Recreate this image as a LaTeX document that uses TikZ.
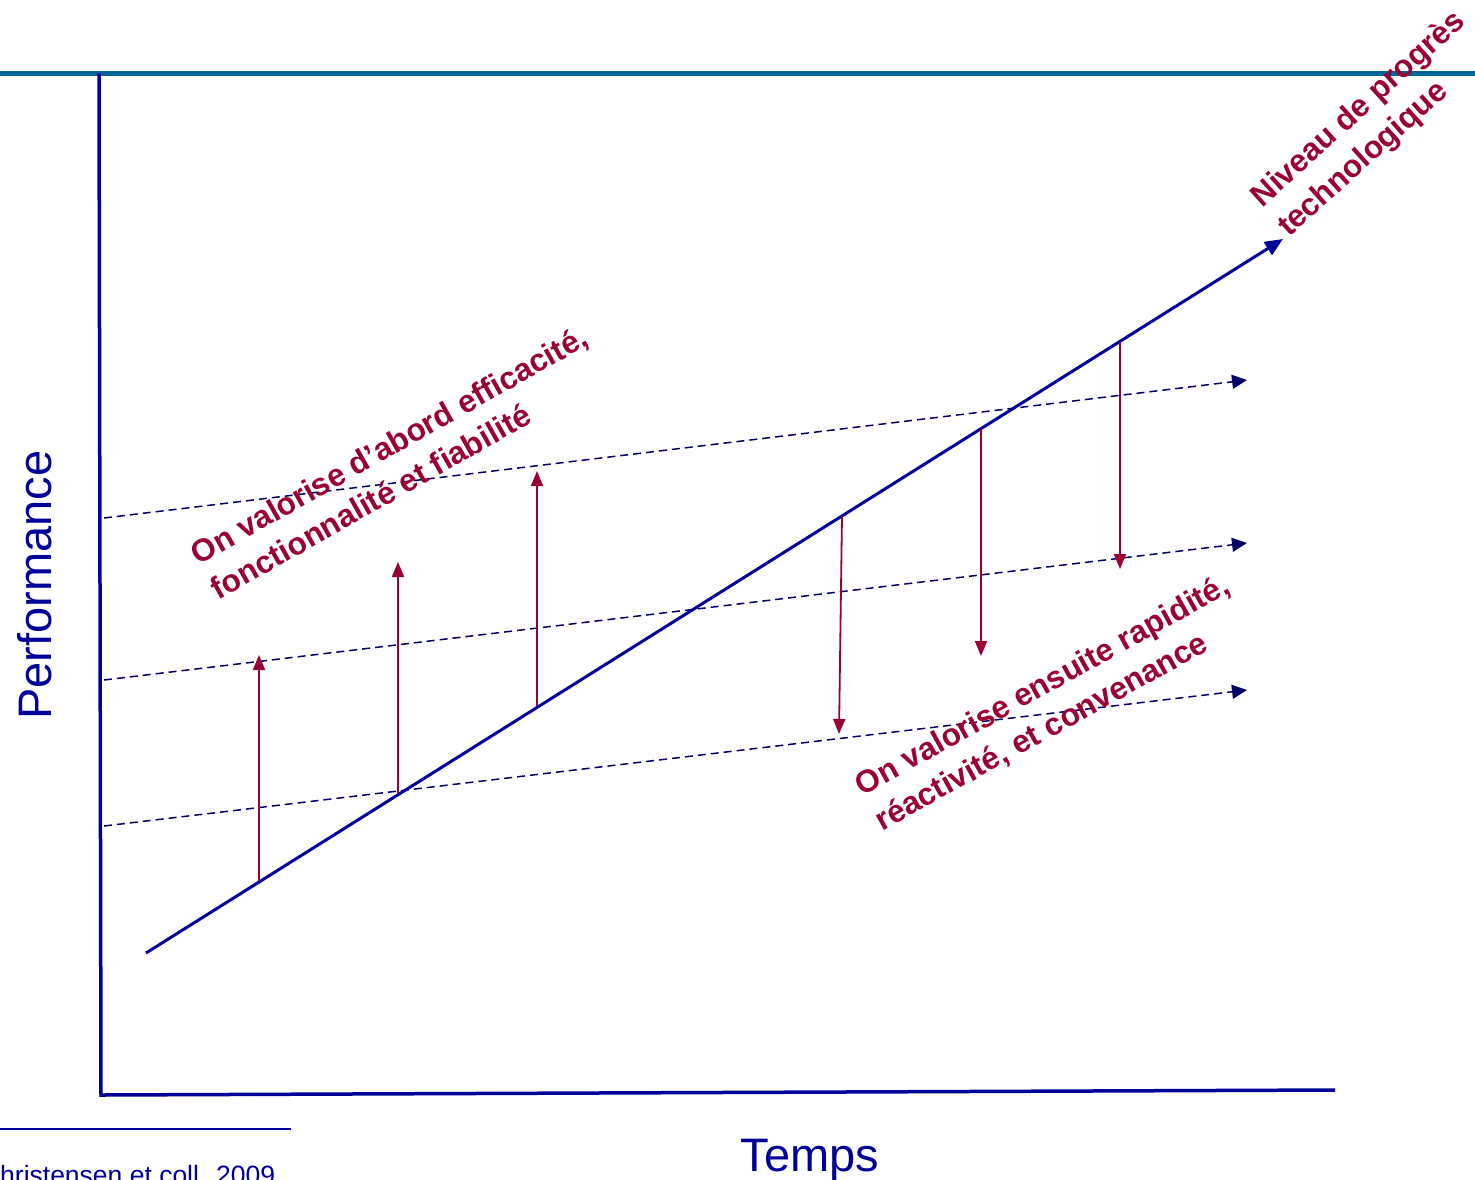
\documentclass[tikz,border=0pt]{standalone}
\usepackage{fontspec}
\setmainfont{Liberation Sans}
\usetikzlibrary{arrows.meta}
\definecolor{axisblue}{RGB}{0,0,153}
\definecolor{navy}{RGB}{0,0,102}
\definecolor{wine}{RGB}{153,0,51}
\definecolor{teal}{RGB}{0,102,153}
\begin{document}
\begin{tikzpicture}[x=1pt,y=-1pt,
  axisline/.style={draw=axisblue,line width=3.5pt},
  trendline/.style={draw=axisblue,line width=3pt,-{Triangle[length=18pt,width=15pt]}},
  levelline/.style={draw=navy,line width=1.5pt,dash pattern=on 8pt off 5pt,-{Triangle[length=15pt,width=14pt]}},
  redarrow/.style={draw=wine,line width=1.8pt,-{Triangle[length=15pt,width=12pt]}},
  redlabel/.style={text=wine,font=\fontsize{31.5}{40}\selectfont\bfseries,align=left,inner sep=0pt},
  axislabel/.style={text=axisblue,font=\fontsize{47}{54}\selectfont,inner sep=0pt}
]
\useasboundingbox (0,0) rectangle (1475,1179);
% top rule
\coordinate (tl) at (0,73);
\coordinate (tr) at (1475,73);
\draw[teal,line width=5pt] (tl) -- (tr);
% axes
\coordinate (ytop) at (99,73);
\coordinate (orig) at (101,1095);
\coordinate (xend) at (1335,1090);
\draw[axisline] (ytop) -- (orig) -- (xend);
% footnote rule
\coordinate (fl) at (0,1129);
\coordinate (fr) at (291,1129);
\draw[axisblue,line width=1.5pt] (fl) -- (fr);
\node[anchor=base west,text=axisblue,font=\fontsize{26.5}{30}\selectfont,inner sep=0pt] (src) at (0,1184) {hristensen et coll. 2009};
% axis labels
\node[axislabel,rotate=90] (perf) at (35,585) {Performance};
\node[axislabel,anchor=base] (temps) at (810,1171) {Temps};
% level lines
\coordinate (l1s) at (104,518); \coordinate (l1e) at (1247,380);
\coordinate (l2s) at (104,680); \coordinate (l2e) at (1247,543);
\coordinate (l3s) at (104,826); \coordinate (l3e) at (1247,690);
\draw[levelline] (l1s) -- (l1e);
\draw[levelline] (l2s) -- (l2e);
\draw[levelline] (l3s) -- (l3e);
% trend
\coordinate (ts) at (146,953);
\coordinate (te) at (1283,239);
\draw[trendline] (ts) -- (te);
% red arrows
\coordinate (a1s) at (259,881); \coordinate (a1e) at (259,655);
\coordinate (a2s) at (398,793); \coordinate (a2e) at (398,562);
\coordinate (a3s) at (537,706); \coordinate (a3e) at (537,471);
\coordinate (b1s) at (842,516); \coordinate (b1e) at (839,734);
\coordinate (b2s) at (981,429); \coordinate (b2e) at (981,656);
\coordinate (b3s) at (1120,342); \coordinate (b3e) at (1120,569);
\foreach \p in {a1,a2,a3,b1,b2,b3} \draw[redarrow] (\p s) -- (\p e);
% labels
\node[redlabel,rotate=29.5,anchor=west] (lab1) at (203,573) {On valorise d’abord efficacité,\\fonctionnalité et fiabilité};
\node[redlabel,rotate=29,anchor=west] (lab2) at (868,806) {On valorise ensuite rapidité,\\réactivité, et convenance};
\node[redlabel,rotate=42,anchor=west] (lab3) at (1270,217) {Niveau de progrès\\technologique};
\end{tikzpicture}
\end{document}
